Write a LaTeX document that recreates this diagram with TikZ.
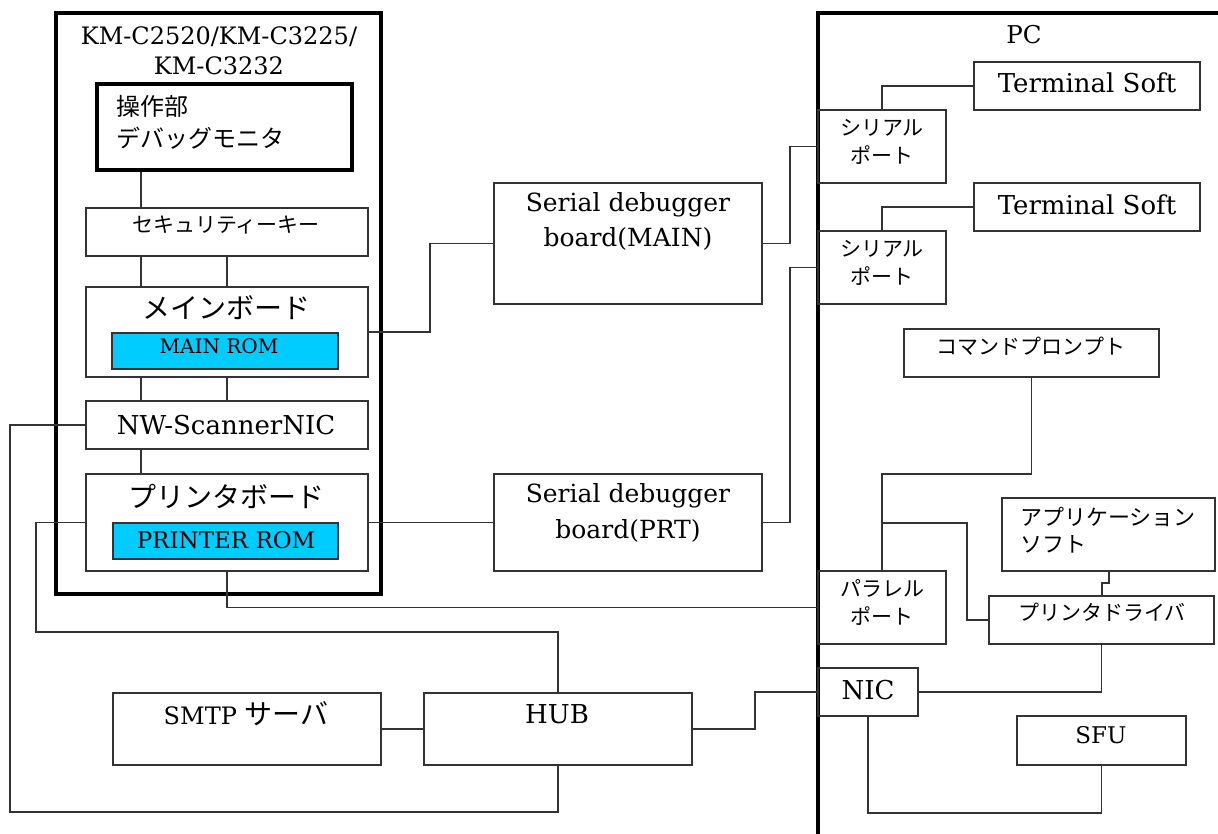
\documentclass[tikz,border=0pt]{standalone}
\usepackage{fontspec}
\setmainfont{DejaVu Serif}
\newfontfamily\jp{Noto Sans CJK JP}
\definecolor{romblue}{HTML}{00CCFF}
\definecolor{ln}{HTML}{333333}
\tikzset{
  box/.style={draw=ln, line width=1.3pt, rectangle, inner sep=0pt},
  thickbox/.style={draw=black, line width=4.5pt, rectangle, inner sep=0pt},
  rom/.style={box, fill=romblue},
  conn/.style={draw=ln, line width=1.3pt},
  lat/.style={inner sep=0pt, font=\fontsize{26}{32}\selectfont},
  jtx/.style={inner sep=0pt, font=\jp\fontsize{21}{28}\selectfont},
}
\begin{document}
\begin{tikzpicture}[x=1pt,y=-1pt]
\useasboundingbox (0,0) rectangle (1218,834);
\fill[white] (0,0) rectangle (1218,834);
\clip (0,0) rectangle (1218,834);

% ---------- left device ----------
\node[thickbox, minimum width=325pt, minimum height=581pt] (km) at (218.5,303.5) {};
\node[lat, font=\fontsize{24}{30}\selectfont, align=center] (kmt) at (219,51) {KM-C2520/KM-C3225/\\KM-C3232};

\node[thickbox, line width=4pt, minimum width=255pt, minimum height=86pt] (op) at (224.5,127) {};
\node[jtx, font=\jp\fontsize{24}{32}\selectfont, align=left, anchor=west] (opt) at (116,122) {操作部\\デバッグモニタ};

\node[box, minimum width=282pt, minimum height=48pt] (sec) at (227,232) {};
\node[jtx] (sect) at (226,225) {セキュリティーキー};

\node[box, minimum width=282pt, minimum height=90pt] (mainb) at (227,332) {};
\node[jtx, font=\jp\fontsize{28}{34}\selectfont] (mainbt) at (226,308) {メインボード};
\node[rom, minimum width=226pt, minimum height=36pt] (mainrom) at (225,351) {};
\node[lat, font=\fontsize{20}{24}\selectfont] (mainromt) at (219,346) {MAIN ROM};

\node[box, minimum width=282pt, minimum height=48pt] (nw) at (227,425) {};
\node[lat] (nwt) at (226,425) {NW-ScannerNIC};

\node[box, minimum width=282pt, minimum height=97pt] (prtb) at (227,522.5) {};
\node[jtx, font=\jp\fontsize{28}{34}\selectfont] (prtbt) at (226,496) {プリンタボード};
\node[rom, minimum width=225pt, minimum height=36pt] (prtrom) at (225.5,541) {};
\node[lat, font=\fontsize{23}{26}\selectfont] (prtromt) at (226,540) {PRINTER ROM};

% ---------- middle ----------
\node[box, minimum width=268pt, minimum height=121pt] (sdmain) at (628,243.5) {};
\node[lat, align=center, font=\fontsize{25}{35}\selectfont] (sdmaint) at (628,221.5) {Serial debugger\\board(MAIN)};
\node[box, minimum width=268pt, minimum height=97pt] (sdprt) at (628,522.5) {};
\node[lat, align=center, font=\fontsize{25}{36}\selectfont] (sdprtt) at (628,513) {Serial debugger\\board(PRT)};

\node[box, minimum width=268pt, minimum height=72pt] (smtp) at (247,729) {};
\node[lat, font=\fontsize{24}{32}\selectfont] (smtpt) at (246,714) {SMTP {\jp\fontsize{28}{32}\selectfont サーバ}};
\node[box, minimum width=268pt, minimum height=72pt] (hub) at (558,729) {};
\node[lat] (hubt) at (557,714) {HUB};

% ---------- PC ----------
\node[thickbox, minimum width=422pt, minimum height=847pt] (pc) at (1029,436.5) {};
\node[lat, font=\fontsize{24.5}{32}\selectfont] (pct) at (1024,35) {PC};

\node[box, minimum width=226pt, minimum height=48pt] (ts1) at (1087,86) {};
\node[lat] (ts1t) at (1087,83) {Terminal Soft};
\node[box, minimum width=128pt, minimum height=73pt] (sp1) at (882,146.5) {};
\node[jtx, align=center] (sp1t) at (882,142) {シリアル\\ポート};

\node[box, minimum width=226pt, minimum height=48pt] (ts2) at (1087,207) {};
\node[lat] (ts2t) at (1087,205) {Terminal Soft};
\node[box, minimum width=128pt, minimum height=73pt] (sp2) at (882,267.5) {};
\node[jtx, align=center] (sp2t) at (882,263) {シリアル\\ポート};

\node[box, minimum width=255pt, minimum height=48pt] (cmd) at (1031.5,353) {};
\node[jtx] (cmdt) at (1031,346) {コマンドプロンプト};

\node[box, minimum width=213pt, minimum height=73pt] (app) at (1108.5,534.5) {};
\node[jtx, font=\jp\fontsize{22}{27}\selectfont, align=left, anchor=west] (appt) at (1020,530) {アプリケーション\\ソフト};

\node[box, minimum width=225pt, minimum height=48pt] (pdrv) at (1101.5,620) {};
\node[jtx] (pdrvt) at (1102,612) {プリンタドライバ};

\node[box, minimum width=128pt, minimum height=73pt] (pp) at (882,607.5) {};
\node[jtx, align=center] (ppt) at (882,602) {パラレル\\ポート};

\node[box, minimum width=100pt, minimum height=48pt] (nic) at (868,692) {};
\node[lat] (nict) at (868,690) {NIC};

\node[box, minimum width=169pt, minimum height=49pt] (sfu) at (1101.5,740.5) {};
\node[lat, font=\fontsize{23}{30}\selectfont] (sfut) at (1101,735) {SFU};

% ---------- connectors ----------
\draw[conn] (141,0 |- op.south) -- (141,0 |- sec.north);
\draw[conn] (141,0 |- sec.south) -- (141,0 |- mainb.north);
\draw[conn] (227,0 |- sec.south) -- (227,0 |- mainb.north);
\draw[conn] (141,0 |- mainb.south) -- (141,0 |- nw.north);
\draw[conn] (227,0 |- mainb.south) -- (227,0 |- nw.north);
\draw[conn] (141,0 |- nw.south) -- (141,0 |- prtb.north);

\draw[conn] (mainb.east) -| (430,0 |- sdmain.west) -- (sdmain.west);
\draw[conn] (sdmain.east) -| (790,0 |- sp1.west) -- (sp1.west);
\draw[conn] (prtb.east) -- (sdprt.west);
\draw[conn] (sdprt.east) -| (790,0 |- sp2.west) -- (sp2.west);
\draw[conn] (sp1.north) |- (ts1.west);
\draw[conn] (sp2.north) |- (ts2.west);

\draw[conn] (cmd.south) |- (pp.north |- 0,474) -- (pp.north);
\draw[conn] (pp.north |- 0,523) -| (967,0 |- pdrv.west) -- (pdrv.west);
\draw[conn] (1109,0 |- app.south) |- (1102,583) -- (1102,0 |- pdrv.north);
\draw[conn] (nic.east) -| (pdrv.south);
\draw[conn] (nic.south) |- (sfu.south |- 0,813) -- (sfu.south);

\draw[conn] (hub.east) -| (755,0 |- nic.west) -- (nic.west);
\draw[conn] (smtp.east) -- (hub.west);
\draw[conn] (hub.north) |- (36,632) |- (prtb.west);
\draw[conn] (hub.south) |- (10,812) |- (nw.west);
\draw[conn] (prtb.south) |- (pp.west);
\end{tikzpicture}
\end{document}
